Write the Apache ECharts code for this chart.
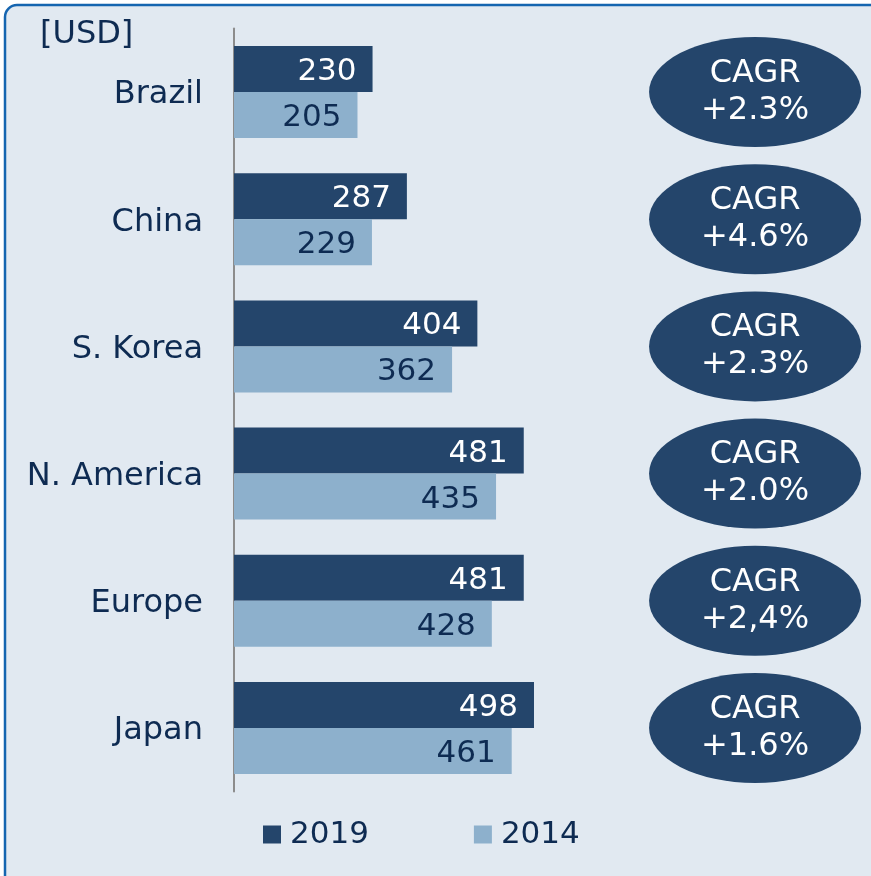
<!DOCTYPE html>
<html>
<head>
<meta charset="utf-8">
<script src="https://cdn.jsdelivr.net/npm/echarts@6/dist/echarts.min.js"></script>
<style>
  html, body { margin: 0; padding: 0; background: #fff; }
  #chart { width: 871px; height: 876px; }
</style>
</head>
<body>
<div id="chart"></div>
<script>
// data
const regions = ['Brazil', 'China', 'S. Korea', 'N. America', 'Europe', 'Japan']
const values2019 = [230, 287, 404, 481, 481, 498]
const values2014 = [205, 229, 362, 435, 428, 461]
const cagrLabels = ['+2.3%', '+4.6%', '+2.3%', '+2.0%', '+2,4%', '+1.6%']
const unitLabel = '[USD]'

const navy = '#0e2b52'
const dark = '#24456b'
const light = '#8db0cc'
const font = 'DejaVu Sans'

const chart = echarts.init(document.getElementById('chart'))

chart.setOption({
  backgroundColor: 'transparent',
  textStyle: { fontFamily: font },
  graphic: [
    {
      type: 'rect',
      z: -10,
      shape: { x: 5, y: 5, width: 900, height: 900, r: 12 },
      style: { fill: '#e1e9f1', stroke: '#1565b0', lineWidth: 2.5 }
    },
    {
      type: 'text',
      left: 40,
      top: 19,
      style: { text: unitLabel, fill: navy, font: '32px "DejaVu Sans"' }
    }
  ],
  legend: {
    left: 263,
    top: 819,
    padding: 0,
    itemWidth: 18,
    itemHeight: 18,
    itemGap: 105,
    icon: 'rect',
    data: ['2019', '2014'],
    textStyle: { color: navy, fontSize: 31, fontFamily: font, padding: [0, 0, 0, 4] }
  },
  grid: {
    left: 234,
    width: 602.4,
    top: 28.4,
    bottom: 876 - 791.6
  },
  xAxis: [
    { type: 'value', min: 0, max: 1000, show: false },
    { type: 'value', min: 0, max: 1, show: false }
  ],
  yAxis: {
    type: 'category',
    inverse: true,
    data: regions,
    axisLine: { show: true, lineStyle: { color: '#8c8c8c', width: 2 } },
    axisTick: { show: false },
    axisLabel: {
      margin: 31,
      formatter: v => '{c|' + v + '}',
      rich: {
        c: { color: navy, fontSize: 32, fontFamily: font, padding: [6, 0, 0, 0] }
      }
    },
    splitLine: { show: false }
  },
  series: [
    {
      name: '2019',
      type: 'bar',
      data: values2019,
      barWidth: 46,
      barGap: '0%',
      itemStyle: { color: dark },
      label: {
        show: true,
        position: 'insideRight',
        distance: 16,
        offset: [0, 3],
        color: '#ffffff',
        fontSize: 31,
        fontFamily: font
      }
    },
    {
      name: '2014',
      type: 'bar',
      data: values2014,
      barWidth: 46,
      barGap: '0%',
      itemStyle: { color: light },
      label: {
        show: true,
        position: 'insideRight',
        distance: 16,
        offset: [0, 3],
        color: navy,
        fontSize: 31,
        fontFamily: font
      }
    },
    {
      name: 'CAGR',
      type: 'scatter',
      xAxisIndex: 1,
      data: regions.map((r, i) => [0.865, r, cagrLabels[i]]),
      symbol: 'circle',
      symbolSize: [212, 110],
      itemStyle: { color: dark, opacity: 1 },
      clip: false,
      label: {
        show: true,
        position: 'inside',
        formatter: p => 'CAGR\n' + p.data[2],
        color: '#ffffff',
        fontSize: 32,
        lineHeight: 37,
        fontFamily: font
      },
      emphasis: { disabled: true },
      silent: true
    }
  ]
})
</script>
</body>
</html>
